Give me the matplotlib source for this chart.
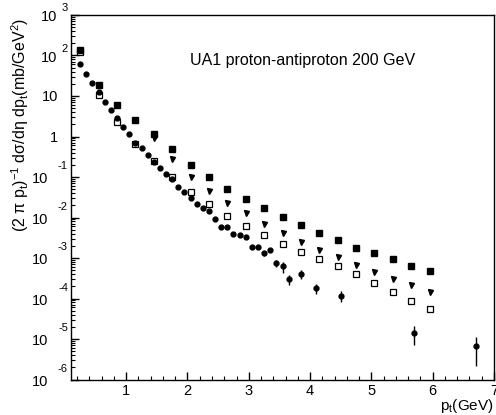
import matplotlib
matplotlib.use('Agg')
import matplotlib.pyplot as plt
import matplotlib.transforms as mtransforms
from matplotlib.ticker import MultipleLocator, LogLocator, NullFormatter
import numpy as np

plt.rcParams['font.family'] = ['Liberation Sans', 'DejaVu Sans']
plt.rcParams['mathtext.default'] = 'regular'

# filled circles
pt_circ = [0.25, 0.35, 0.45, 0.55, 0.65, 0.75, 0.85, 0.95, 1.05, 1.15,
           1.25, 1.35, 1.45, 1.55, 1.65, 1.75, 1.85, 1.95, 2.05, 2.15,
           2.25, 2.35, 2.45, 2.55, 2.65, 2.75, 2.85, 2.95, 3.05, 3.15,
           3.25, 3.35, 3.45, 3.55, 3.65, 3.85, 4.10, 4.50, 5.70, 6.70]
y_circ = [61, 35, 21, 12.3, 7.2, 4.5, 2.8, 1.7, 1.16, 0.71,
          0.52, 0.35, 0.24, 0.17, 0.12, 0.087, 0.057, 0.043, 0.031, 0.022,
          0.017, 0.0144, 0.0093, 0.0058, 0.0058, 0.0040, 0.0038, 0.0033, 0.0019, 0.0019,
          0.0013, 0.0016, 7.4e-4, 6.2e-4, 3.0e-4, 4.0e-4, 1.8e-4, 1.15e-4, 1.4e-5, 6.8e-6]
# relative errors of the circles
rel_err_circ = [0] * 30 + [0.15, 0.1, 0.2, 0.3, 0.3, 0.25, 0.3, 0.3, 0.5, 0.68]

# filled squares
pt_sq = [0.25, 0.55, 0.85, 1.15, 1.45, 1.75, 2.05, 2.35, 2.65, 2.95,
         3.25, 3.55, 3.85, 4.15, 4.45, 4.75, 5.05, 5.35, 5.65, 5.95]
y_sq = [140, 19, 6.1, 2.6, 1.15, 0.49, 0.20, 0.098, 0.052, 0.029,
        0.017, 0.0102, 0.0065, 0.0042, 0.0028, 0.0018, 0.00136, 9.3e-4, 6.4e-4, 4.8e-4]

# filled down triangles
pt_tri = [1.45, 1.75, 2.05, 2.35, 2.65, 2.95, 3.25, 3.55, 3.85, 4.15,
          4.45, 4.75, 5.05, 5.35, 5.65, 5.95]
y_tri = [0.91, 0.28, 0.10, 0.044, 0.023, 0.0126, 0.0068, 0.0041, 0.0025, 0.00155,
         0.00103, 6.6e-4, 4.6e-4, 3.1e-4, 2.1e-4, 1.45e-4]

# open squares
pt_open = [0.25, 0.55, 0.85, 1.15, 1.45, 1.75, 2.05, 2.35, 2.65, 2.95,
           3.25, 3.55, 3.85, 4.15, 4.45, 4.75, 5.05, 5.35, 5.65, 5.95]
y_open = [120, 10.8, 2.26, 0.66, 0.243, 0.098, 0.042, 0.0214, 0.0108, 0.0061,
          0.0037, 0.0022, 0.00142, 9.3e-4, 6.3e-4, 4.1e-4, 2.4e-4, 1.45e-4, 8.9e-5, 5.4e-5]

decades = list(range(-6, 4))

W, H = 496, 415
fig = plt.figure(figsize=(W / 100, H / 100), dpi=100)
ax = fig.add_axes([71 / W, 1 - 379.5 / H, (494 - 71) / W, (379.5 - 15) / H])

ax.plot(pt_open, y_open, linestyle='none', marker='s', ms=3.9,
        mfc='white', mec='black', mew=0.9)
ax.plot(pt_sq, y_sq, linestyle='none', marker='s', ms=3.7, color='black')
ax.plot(pt_tri, y_tri, linestyle='none', marker='v', ms=3.6, color='black')
err = np.array(rel_err_circ) * np.array(y_circ)
ax.errorbar(pt_circ, y_circ, yerr=err, fmt='o', ms=3.5, color='black',
            elinewidth=1.0, capsize=0)

ax.set_yscale('log')
ax.set_xlim(0.1, 7)
ax.set_ylim(1e-6, 1e3)

for s in ax.spines.values():
    s.set_linewidth(1.0)

ax.set_xticks(range(1, 8))
ax.xaxis.set_minor_locator(MultipleLocator(0.2))
ax.tick_params(axis='x', which='major', direction='in', length=5.5, width=1,
               labelsize=10.5, pad=3)
ax.tick_params(axis='x', which='minor', direction='in', length=3, width=0.8)

ax.yaxis.set_major_locator(LogLocator(base=10, numticks=20))
ax.yaxis.set_minor_locator(LogLocator(base=10, subs=np.arange(2, 10), numticks=20))
ax.yaxis.set_major_formatter(NullFormatter())
ax.yaxis.set_minor_formatter(NullFormatter())
ax.tick_params(axis='y', which='major', direction='in', length=5.5, width=1)
ax.tick_params(axis='y', which='minor', direction='in', length=3, width=0.8)

# ROOT style y tick labels: "10" with a raised exponent
trans = mtransforms.blended_transform_factory(ax.transAxes, ax.transData)
for k in decades:
    yv = 10.0 ** k
    if k == 0 or k == 1:
        t = mtransforms.offset_copy(trans, fig=fig, x=-13, y=-1, units='dots')
        ax.text(0, yv, '1' if k == 0 else '10', transform=t, ha='right',
                va='center', fontsize=10.5, clip_on=False)
        continue
    base_dx = -14 if k > 0 else -23
    t1 = mtransforms.offset_copy(trans, fig=fig, x=base_dx, y=-2, units='dots')
    ax.text(0, yv, '10', transform=t1, ha='right', va='center',
            fontsize=10.5, clip_on=False)
    exp_dy = 7 if k > 0 else 11
    t2 = mtransforms.offset_copy(trans, fig=fig, x=-3, y=exp_dy, units='dots')
    ax.text(0, yv, str(k), transform=t2, ha='right', va='center',
            fontsize=8, clip_on=False)

fig.text(190 / W, 1 - 60 / H, 'UA1 proton-antiproton 200 GeV',
         ha='left', va='center', fontsize=11.5)

fig.text(20 / W, 1 - 18 / H,
         '(2 π p$_t$)$^{-1}$ dσ/dη dp$_t$(mb/GeV$^2$)',
         rotation=90, ha='center', va='top', fontsize=11.5)
fig.text(494 / W, 1 - 406 / H, 'p$_t$(GeV)', ha='right', va='center',
         fontsize=11)

fig.savefig('out.png', dpi=100)
